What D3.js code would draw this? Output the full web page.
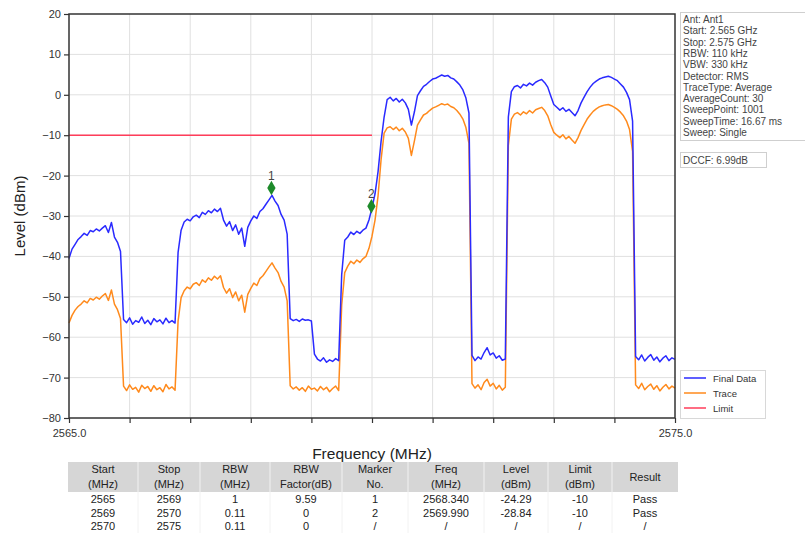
<!DOCTYPE html>
<html>
<head>
<meta charset="utf-8">
<script src="https://cdn.jsdelivr.net/npm/d3@7"></script>
<style>
  html, body { margin: 0; padding: 0; background: #ffffff; }
  svg { display: block; font-family: "Liberation Sans", Arial, sans-serif; }
</style>
</head>
<body>
<svg id="chart" width="805" height="541"></svg>
<script>
// ---------------- DATA ----------------
const sweepStartMHz = 2565;
const sweepStopMHz = 2575;

const finalData = [
 -40.5,-38.2,-37.0,-35.8,-35.1,-34.3,-34.8,-33.6,-33.9,-33.2,
 -33.7,-33.0,-32.4,-34.1,-31.6,-35.2,-36.5,-38.8,-55.6,-56.4,
 -55.2,-56.8,-55.9,-56.3,-55.0,-56.6,-55.8,-56.9,-55.4,-56.2,
 -55.7,-56.7,-55.3,-56.4,-55.9,-56.5,-39.0,-33.5,-31.5,-30.8,
 -31.2,-30.2,-29.8,-30.4,-29.1,-29.6,-28.7,-29.2,-28.3,-28.9,
 -28.1,-31.0,-32.5,-31.4,-33.6,-32.2,-34.5,-33.0,-37.5,-32.8,
 -31.2,-30.0,-30.6,-28.9,-28.2,-27.1,-26.0,-24.9,-26.3,-27.4,
 -29.6,-31.0,-34.5,-55.4,-55.9,-55.6,-56.1,-55.5,-55.8,-55.7,
 -56.0,-64.2,-65.4,-65.9,-65.1,-66.2,-65.6,-66.0,-65.3,-65.8,
 -44.5,-36.0,-35.2,-34.0,-34.6,-33.8,-34.3,-33.5,-33.0,-31.0,
 -28.0,-24.5,-19.0,-11.5,-5.5,-1.2,-0.6,-1.5,-0.9,-1.8,
 -1.1,-2.0,-3.6,-7.5,-4.2,-0.2,1.0,2.1,2.6,3.3,
 3.9,4.1,4.5,4.9,4.6,4.8,4.2,3.9,3.2,2.4,
 1.2,-0.8,-4.5,-64.5,-65.8,-64.9,-65.4,-63.8,-62.6,-64.4,
 -63.9,-65.2,-64.6,-65.7,-65.4,-5.5,0.8,2.0,2.3,1.7,
 2.6,2.2,2.9,2.4,3.1,3.5,3.8,3.0,1.9,-0.3,
 -2.4,-3.1,-3.8,-3.2,-4.1,-3.6,-4.4,-5.2,-3.9,-2.0,
 -0.6,0.8,1.9,2.8,3.4,3.9,4.2,4.4,4.6,4.3,
 3.9,3.5,2.7,1.9,0.6,-1.2,-6.5,-64.8,-65.6,-64.4,
 -65.9,-65.0,-64.3,-65.7,-64.9,-66.1,-65.2,-64.6,-65.8,-65.1,
 -65.5
];

const traceData = [
 -56.5,-54.6,-53.3,-52.4,-51.8,-51.0,-51.5,-50.4,-50.8,-50.1,
 -50.6,-49.8,-49.2,-50.9,-48.3,-51.8,-53.2,-55.4,-72.1,-73.2,
 -71.8,-72.9,-72.4,-73.6,-71.9,-72.7,-72.2,-73.4,-72.0,-73.0,
 -72.5,-73.5,-71.7,-72.8,-72.3,-73.1,-56.0,-50.2,-48.5,-47.6,
 -48.0,-46.9,-46.5,-47.2,-45.8,-46.4,-45.3,-45.9,-44.9,-45.6,
 -44.8,-47.7,-49.1,-48.0,-50.2,-48.8,-51.0,-49.6,-53.8,-49.4,
 -47.9,-46.6,-47.2,-45.5,-44.8,-43.7,-42.6,-41.6,-42.9,-44.0,
 -46.2,-47.6,-51.0,-72.0,-72.8,-72.3,-73.1,-72.5,-73.4,-72.1,
 -72.9,-72.6,-73.3,-72.2,-73.0,-72.4,-73.5,-72.7,-72.1,-73.2,
 -52.0,-44.0,-42.4,-41.2,-41.8,-40.9,-41.5,-40.6,-40.0,-38.0,
 -35.0,-31.0,-25.0,-16.0,-9.5,-8.2,-7.9,-8.6,-8.0,-8.9,
 -8.3,-9.2,-10.8,-15.0,-11.4,-7.5,-6.2,-5.0,-4.6,-3.9,
 -3.3,-3.0,-2.6,-2.2,-2.5,-2.3,-2.9,-3.2,-3.9,-4.8,
 -6.0,-8.1,-12.0,-71.5,-72.6,-71.8,-73.0,-71.2,-70.4,-72.1,
 -71.4,-72.8,-71.9,-73.1,-72.4,-12.5,-6.0,-4.8,-4.4,-5.0,
 -4.2,-4.7,-3.9,-4.5,-3.7,-3.4,-3.1,-3.9,-5.2,-7.4,
 -9.3,-10.0,-10.6,-9.9,-10.9,-10.3,-11.2,-12.0,-10.6,-8.8,
 -7.4,-6.0,-5.0,-4.1,-3.5,-3.0,-2.7,-2.5,-2.4,-2.7,
 -3.1,-3.6,-4.3,-5.2,-6.5,-8.6,-14.0,-71.8,-72.7,-71.4,
 -73.0,-72.2,-71.6,-72.9,-72.0,-73.3,-72.4,-71.7,-72.8,-72.1,
 -72.6
];

const limitFreqs = [2565, 2570];
const limitLevels = [-10, -10];

const markerNos = ["1", "2"];
const markerFreqs = [2568.340, 2569.990];
const markerLevels = [-24.29, -28.84];

const yTicks = [20, 10, 0, -10, -20, -30, -40, -50, -60, -70, -80];
const xTicks = [2565, 2566, 2567, 2568, 2569, 2570, 2571, 2572, 2573, 2574, 2575];
const xTickLabels = ["2565.0", "", "", "", "", "", "", "", "", "", "2575.0"];

const infoLines = ["Ant: Ant1", "Start: 2.565 GHz", "Stop: 2.575 GHz", "RBW: 110 kHz",
  "VBW: 330 kHz", "Detector: RMS", "TraceType: Average", "AverageCount: 30",
  "SweepPoint: 1001", "SweepTime: 16.67 ms", "Sweep: Single"];
const dccfText = "DCCF: 6.99dB";

const legendLabels = ["Final Data", "Trace", "Limit"];

const tableHeader1 = ["Start", "Stop", "RBW", "RBW", "Marker", "Freq", "Level", "Limit", "Result"];
const tableHeader2 = ["(MHz)", "(MHz)", "(MHz)", "Factor(dB)", "No.", "(MHz)", "(dBm)", "(dBm)", ""];
const tableRows = [
  ["2565", "2569", "1", "9.59", "1", "2568.340", "-24.29", "-10", "Pass"],
  ["2569", "2570", "0.11", "0", "2", "2569.990", "-28.84", "-10", "Pass"],
  ["2570", "2575", "0.11", "0", "/", "/", "/", "/", "/"]
];

// ---------------- LAYOUT / STYLE ----------------
const W = 805, H = 541;
const plot = { left: 69, right: 675, top: 14, bottom: 418 };
const colors = { final: "#2a2aff", trace: "#ff8a1c", limit: "#ff3d5a", marker: "#1d8a2a",
  grid: "#e0e0e0", axis: "#333333", text: "#333333" };

const svg = d3.select("#chart");

const x = d3.scaleLinear().domain([sweepStartMHz, sweepStopMHz]).range([plot.left, plot.right]);
const y = d3.scaleLinear().domain([-80, 20]).range([plot.bottom, plot.top]);

const n = finalData.length;
const freqs = d3.range(n).map(i => sweepStartMHz + i * (sweepStopMHz - sweepStartMHz) / (n - 1));

// gridlines
const grid = svg.append("g");
grid.selectAll("line.v").data(xTicks.slice(1, -1)).join("line")
  .attr("x1", d => x(d)).attr("x2", d => x(d))
  .attr("y1", plot.top).attr("y2", plot.bottom)
  .attr("stroke", colors.grid).attr("stroke-width", 1);
grid.selectAll("line.h").data(yTicks.slice(1, -1)).join("line")
  .attr("x1", plot.left).attr("x2", plot.right)
  .attr("y1", d => y(d)).attr("y2", d => y(d))
  .attr("stroke", colors.grid).attr("stroke-width", 1);

// series
const line = d3.line().x((d, i) => x(freqs[i])).y(d => y(d));
svg.append("path").datum(traceData).attr("d", line)
  .attr("fill", "none").attr("stroke", colors.trace).attr("stroke-width", 1.5).attr("stroke-linejoin", "round");
svg.append("path").datum(finalData).attr("d", line)
  .attr("fill", "none").attr("stroke", colors.final).attr("stroke-width", 1.5).attr("stroke-linejoin", "round");

const limLine = d3.line().x((d, i) => x(limitFreqs[i])).y(d => y(d));
svg.append("path").datum(limitLevels).attr("d", limLine)
  .attr("fill", "none").attr("stroke", colors.limit).attr("stroke-width", 1.5);

// markers
const mk = svg.append("g");
markerFreqs.forEach((f, i) => {
  const cx = x(f), cy = y(markerLevels[i]) - 5;
  mk.append("path").attr("d", d3.symbol().type(d3.symbolDiamond).size(60)())
    .attr("transform", `translate(${cx},${cy})`).attr("fill", colors.marker);
  mk.append("text").attr("x", cx).attr("y", cy - 8).attr("text-anchor", "middle")
    .attr("font-size", 12).attr("fill", "#444").text(markerNos[i]);
});

// axes
const yAxis = d3.axisLeft(y).tickValues(yTicks).tickSize(5).tickPadding(3).tickFormat(d3.format("d"));
const gy = svg.append("g").attr("transform", `translate(${plot.left},0)`).call(yAxis);
const xAxis = d3.axisBottom(x).tickValues(xTicks).tickSize(5).tickPadding(4)
  .tickFormat((d, i) => xTickLabels[i]);
const gx = svg.append("g").attr("transform", `translate(0,${plot.bottom})`).call(xAxis);
[gx, gy].forEach(g => {
  g.select(".domain").remove();
  g.selectAll(".tick line").attr("stroke", colors.axis).attr("stroke-width", 1.2);
  g.selectAll(".tick text").attr("fill", colors.text).attr("font-size", 11)
    .attr("font-family", "'Liberation Sans', Arial, sans-serif");
});
gx.selectAll(".tick text").attr("dy", "0.9em");

// frame
svg.append("rect").attr("x", plot.left).attr("y", plot.top)
  .attr("width", plot.right - plot.left).attr("height", plot.bottom - plot.top)
  .attr("fill", "none").attr("stroke", colors.axis).attr("stroke-width", 1.5);

// axis titles
svg.append("text").attr("transform", `translate(25,${(plot.top + plot.bottom) / 2}) rotate(-90)`)
  .attr("text-anchor", "middle").attr("font-size", 15).attr("fill", "#222").text("Level (dBm)");
svg.append("text").attr("x", (plot.left + plot.right) / 2).attr("y", 459)
  .attr("text-anchor", "middle").attr("font-size", 15.5).attr("fill", "#222").text("Frequency (MHz)");

// info box
const info = svg.append("g");
info.append("rect").attr("x", 680.5).attr("y", 12.5).attr("width", 130).attr("height", 128)
  .attr("fill", "#fff").attr("stroke", "#cfcfcf");
info.selectAll("text").data(infoLines).join("text")
  .attr("x", 683).attr("y", (d, i) => 23 + i * 11.3)
  .attr("font-size", 10).attr("fill", "#444").text(d => d);
info.append("rect").attr("x", 680.5).attr("y", 152.5).attr("width", 86).attr("height", 15)
  .attr("fill", "#fff").attr("stroke", "#cfcfcf");
info.append("text").attr("x", 683).attr("y", 164).attr("font-size", 10).attr("fill", "#444").text(dccfText);

// legend
const lg = svg.append("g");
lg.append("rect").attr("x", 680.5).attr("y", 370.5).attr("width", 85).attr("height", 48)
  .attr("fill", "#fff").attr("stroke", "#d8d8d8");
const legendColors = [colors.final, colors.trace, colors.limit];
legendLabels.forEach((lab, i) => {
  const ly = 378 + i * 15;
  lg.append("line").attr("x1", 684).attr("x2", 706).attr("y1", ly).attr("y2", ly)
    .attr("stroke", legendColors[i]).attr("stroke-width", 1.5);
  lg.append("text").attr("x", 713).attr("y", ly + 3.5).attr("font-size", 9.5).attr("fill", "#333").text(lab);
});

// table
const colEdges = [68, 138, 200, 270, 342, 408, 484, 548, 612, 678];
const colCenters = colEdges.slice(0, -1).map((e, i) => (e + colEdges[i + 1]) / 2);
const tb = svg.append("g").attr("font-size", 11).attr("fill", "#222");
tb.append("rect").attr("x", colEdges[0]).attr("y", 462)
  .attr("width", colEdges[9] - colEdges[0]).attr("height", 30).attr("fill", "#d6d6d6");
colEdges.slice(1, -1).forEach(e => {
  tb.append("line").attr("x1", e).attr("x2", e).attr("y1", 462).attr("y2", 533)
    .attr("stroke", "#f2f2f2").attr("stroke-width", 1);
});
tableHeader1.forEach((h, i) => {
  const two = tableHeader2[i] !== "";
  tb.append("text").attr("x", colCenters[i]).attr("y", two ? 473 : 481)
    .attr("text-anchor", "middle").text(h);
  if (two) tb.append("text").attr("x", colCenters[i]).attr("y", 488)
    .attr("text-anchor", "middle").text(tableHeader2[i]);
});
tableRows.forEach((row, r) => {
  row.forEach((c, i) => {
    tb.append("text").attr("x", colCenters[i]).attr("y", 503 + r * 13.5)
      .attr("text-anchor", "middle").text(c);
  });
});
</script>
</body>
</html>
